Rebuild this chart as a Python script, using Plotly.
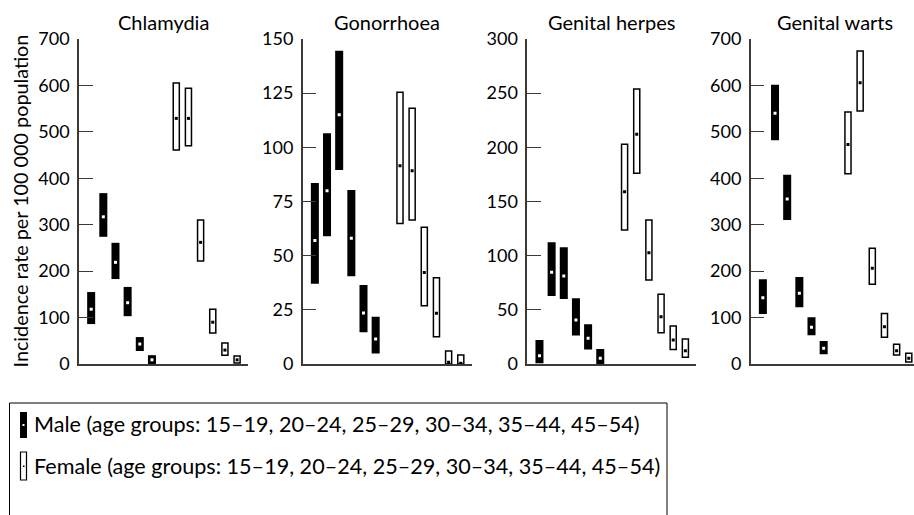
import plotly.graph_objects as go

# ---- data ----
diseases = ["Chlamydia", "Gonorrhoea", "Genital herpes", "Genital warts"]
y_max = [700, 150, 300, 700]
y_dtick = [100, 25, 50, 100]

male_slots = [1, 2, 3, 4, 5, 6]
female_slots = [8, 9, 10, 11, 12, 13]

chl_male_mid = [118, 317, 219, 132, 43, 9]
chl_male_lo = [86, 274, 183, 103, 28, 0]
chl_male_hi = [155, 368, 261, 166, 58, 19]
chl_female_mid = [529, 529, 262, 90, 30, 9]
chl_female_lo = [461, 470, 222, 67, 19, 2]
chl_female_hi = [605, 594, 310, 118, 45, 17]

gon_male_mid = [57, 80, 115, 58, 23.5, 11.5]
gon_male_lo = [37, 59, 89.5, 40.5, 14.6, 4.9]
gon_male_hi = [83.5, 106.5, 144.6, 80.3, 36.5, 21.8]
gon_female_mid = [91.5, 89.2, 42.2, 23.4, 0.8, 0.3]
gon_female_lo = [64.9, 66.5, 26.9, 12.6, 0, 0]
gon_female_hi = [125.4, 118, 63.1, 39.8, 6, 4.2]

her_male_mid = [7.7, 84.6, 81.2, 40.6, 23.7, 5.2]
her_male_lo = [0.6, 62.8, 60, 26.2, 13.5, 0]
her_male_hi = [22.2, 112.3, 107.7, 60.6, 36.6, 13.8]
her_female_mid = [159, 212, 102.8, 43.7, 22.2, 12.3]
her_female_lo = [123.7, 176, 77.5, 28.9, 13.5, 6.2]
her_female_hi = [202.8, 253.8, 133, 64.3, 35, 23.1]

war_male_mid = [142.8, 540, 355.4, 152.3, 79, 33.8]
war_male_lo = [107.7, 481.8, 310.2, 122, 61.8, 20.8]
war_male_hi = [182.4, 601.6, 407.7, 187.4, 100.6, 49.5]
war_female_mid = [473, 606, 206, 80.4, 28.7, 12.3]
war_female_lo = [409.9, 544.9, 171.7, 57.5, 19.4, 4.3]
war_female_hi = [542.8, 674.2, 249.2, 109, 42.4, 23]

y_title = "Incidence rate per 100 000 population"
legend_male = "Male (age groups: 15–19, 20–24, 25–29, 30–34, 35–44, 45–54)"
legend_female = "Female (age groups: 15–19, 20–24, 25–29, 30–34, 35–44, 45–54)"

series = [
    (chl_male_lo, chl_male_hi, chl_male_mid, chl_female_lo, chl_female_hi, chl_female_mid),
    (gon_male_lo, gon_male_hi, gon_male_mid, gon_female_lo, gon_female_hi, gon_female_mid),
    (her_male_lo, her_male_hi, her_male_mid, her_female_lo, her_female_hi, her_female_mid),
    (war_male_lo, war_male_hi, war_male_mid, war_female_lo, war_female_hi, war_female_mid),
]

# ---- layout geometry ----
W, H = 914, 515
FONT = "Lato"
axis_px = [79, 302.7, 527.3, 750.7]
x_ranges = [[0, 13.9], [0, 13.9], [0, 13.9], [0, 13.4]]
px_per_unit = 12.16
y_bottom = 1 - 364 / H
y_top = 1 - 39 / H
AXC = "#3a3a3a"

fig = go.Figure()
annotations = []

for i, (name, (mlo, mhi, mmid, flo, fhi, fmid)) in enumerate(zip(diseases, series)):
    n = i + 1
    xa = "x" if n == 1 else f"x{n}"
    ya = "y" if n == 1 else f"y{n}"
    fig.add_trace(go.Bar(
        x=male_slots, y=[h - l for h, l in zip(mhi, mlo)], base=mlo,
        width=0.66, marker=dict(color="black", line=dict(width=0)),
        xaxis=xa, yaxis=ya, showlegend=False, hoverinfo="skip"))
    fig.add_trace(go.Bar(
        x=female_slots, y=[h - l for h, l in zip(fhi, flo)], base=flo,
        width=0.5, marker=dict(color="white", line=dict(width=1.5, color="black")),
        xaxis=xa, yaxis=ya, showlegend=False, hoverinfo="skip"))
    fig.add_trace(go.Scatter(
        x=male_slots, y=mmid, mode="markers",
        marker=dict(color="white", size=3, symbol="square"),
        xaxis=xa, yaxis=ya, showlegend=False, hoverinfo="skip"))
    fig.add_trace(go.Scatter(
        x=female_slots, y=fmid, mode="markers",
        marker=dict(color="black", size=3, symbol="square"),
        xaxis=xa, yaxis=ya, showlegend=False, hoverinfo="skip"))

    x0 = axis_px[i]
    x1 = x0 + (x_ranges[i][1] - x_ranges[i][0]) * px_per_unit
    dom = [x0 / W, min(x1 / W, 1.0)]
    xkey = "xaxis" if n == 1 else f"xaxis{n}"
    ykey = "yaxis" if n == 1 else f"yaxis{n}"
    fig.update_layout(**{
        xkey: dict(domain=dom, range=x_ranges[i], anchor=ya, showline=True,
                   linecolor=AXC, linewidth=1.5, showticklabels=False,
                   ticks="", showgrid=False, zeroline=False, fixedrange=True,
                   automargin=False),
        ykey: dict(domain=[y_bottom, y_top], range=[0, y_max[i]], anchor=xa,
                   dtick=y_dtick[i], tick0=0, showline=True, linecolor=AXC,
                   linewidth=1.5, ticks="inside", ticklen=14, tickwidth=1.2,
                   tickcolor=AXC, showgrid=False, zeroline=False,
                   ticklabelstandoff=4, automargin=False,
                   tickfont=dict(family=FONT, size=18, color="black"),
                   fixedrange=True),
    })
    annotations.append(dict(
        x=(x0 + 84.5) / W,
        y=1 - 22 / H, xref="paper", yref="paper", text=name, showarrow=False,
        xanchor="center", yanchor="middle",
        font=dict(family=FONT, size=20, color="black")))

annotations.append(dict(
    x=20 / W, y=(y_bottom + y_top) / 2, xref="paper", yref="paper",
    text=y_title, textangle=-90, showarrow=False, xanchor="center",
    yanchor="middle", font=dict(family=FONT, size=19.8, color="black")))

# legend (custom box)
shapes = [
    dict(type="rect", xref="paper", yref="paper", x0=9.5 / W, x1=667 / W,
         y0=-0.02, y1=1 - 403 / H, line=dict(color="black", width=1),
         fillcolor="rgba(0,0,0,0)"),
    dict(type="rect", xref="paper", yref="paper", x0=20 / W, x1=27 / W,
         y0=1 - 438 / H, y1=1 - 412 / H, line=dict(width=0), fillcolor="black"),
    dict(type="rect", xref="paper", yref="paper", x0=22.5 / W, x1=24.5 / W,
         y0=1 - 426 / H, y1=1 - 424 / H, line=dict(width=0), fillcolor="white"),
    dict(type="rect", xref="paper", yref="paper", x0=20.5 / W, x1=26.5 / W,
         y0=1 - 480 / H, y1=1 - 452 / H, line=dict(width=1.2, color="black"),
         fillcolor="white"),
    dict(type="rect", xref="paper", yref="paper", x0=23 / W, x1=24.5 / W,
         y0=1 - 467 / H, y1=1 - 465.5 / H, line=dict(width=0), fillcolor="black"),
]
annotations.append(dict(
    x=32 / W, y=1 - 424 / H, xref="paper", yref="paper", text=legend_male,
    showarrow=False, xanchor="left", yanchor="middle",
    font=dict(family=FONT, size=21.6, color="black")))
annotations.append(dict(
    x=32 / W, y=1 - 466 / H, xref="paper", yref="paper", text=legend_female,
    showarrow=False, xanchor="left", yanchor="middle",
    font=dict(family=FONT, size=21.6, color="black")))

fig.update_layout(
    width=W, height=H, margin=dict(l=0, r=0, t=0, b=0, autoexpand=False),
    paper_bgcolor="white", plot_bgcolor="white", barmode="overlay",
    annotations=annotations, shapes=shapes, showlegend=False,
)

fig.write_html("out.html")
